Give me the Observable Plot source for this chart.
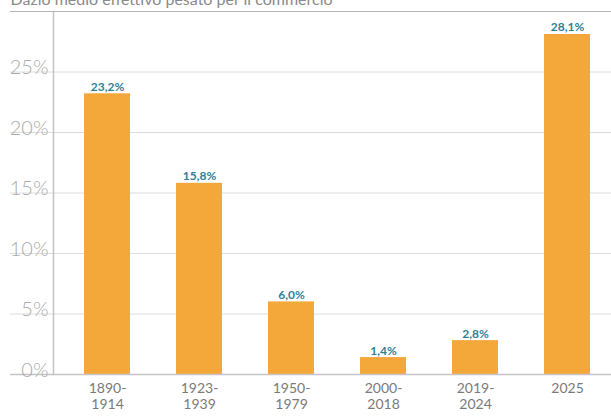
<!DOCTYPE html>
<html>
<head>
<meta charset="utf-8">
<script src="https://cdn.jsdelivr.net/npm/d3@7"></script>
<script src="https://cdn.jsdelivr.net/npm/@observablehq/plot@0.6"></script>
<style>
  body { margin: 0; background: #fff; }
</style>
</head>
<body>
<div id="chart"></div>
<script>
const title = "Dazio medio effettivo pesato per il commercio";
const periods = ["1890-\n1914", "1923-\n1939", "1950-\n1979", "2000-\n2018", "2019-\n2024", "2025"];
const values = [23.2, 15.8, 6.0, 1.4, 2.8, 28.1];
const valueLabels = ["23,2%", "15,8%", "6,0%", "1,4%", "2,8%", "28,1%"];
const yTicks = [0, 5, 10, 15, 20, 25];
const yTop = 30;

const data = periods.map((p, i) => ({period: p, value: values[i], label: valueLabels[i]}));

const chart = Plot.plot({
  width: 611,
  height: 417,
  marginLeft: 53,
  marginRight: 0,
  marginTop: 11,
  marginBottom: 43,
  style: {fontFamily: "Lato, sans-serif", background: "transparent", overflow: "visible"},
  x: {domain: periods, padding: 0.5, paddingOuter: 0.28, align: 0.6, axis: null},
  y: {domain: [0, yTop], axis: null},
  marks: [
    Plot.ruleY(yTicks.filter(d => d > 0), {stroke: "#dcdcdc", strokeWidth: 1, insetLeft: -43}),
    Plot.ruleY([yTop], {stroke: "#b5b5b5", strokeWidth: 1.2, insetLeft: -43}),
    Plot.barY(data, {x: "period", y: "value", fill: "#f5a83a"}),
    Plot.ruleY([0], {stroke: "#c4c4c4", strokeWidth: 1.5, insetLeft: -43}),
    Plot.frame({anchor: "left", stroke: "#c4c4c4", strokeWidth: 1.5}),
    Plot.text([title], {text: d => d, frameAnchor: "top-left", dx: -43, dy: -7, textAnchor: "start", lineAnchor: "bottom", fill: "#8a8a8a", fontSize: 16}),
    Plot.text(data, {x: "period", y: "value", text: "label", dy: -3, lineAnchor: "bottom", fill: "#2f7f95", fontSize: 12, fontWeight: "bold"}),
    Plot.text(data, {x: "period", text: "period", frameAnchor: "bottom", lineAnchor: "top", dy: 7, lineHeight: 1.15, fill: "#7a7a7a", fontSize: 14}),
    Plot.text(yTicks, {y: d => d, text: d => d + "%", frameAnchor: "left", dx: -5, textAnchor: "end", lineAnchor: "bottom", dy: 2, fill: "#ababab", fontSize: 20, fontWeight: 300})
  ]
});
document.getElementById("chart").appendChild(chart);
</script>
</body>
</html>
